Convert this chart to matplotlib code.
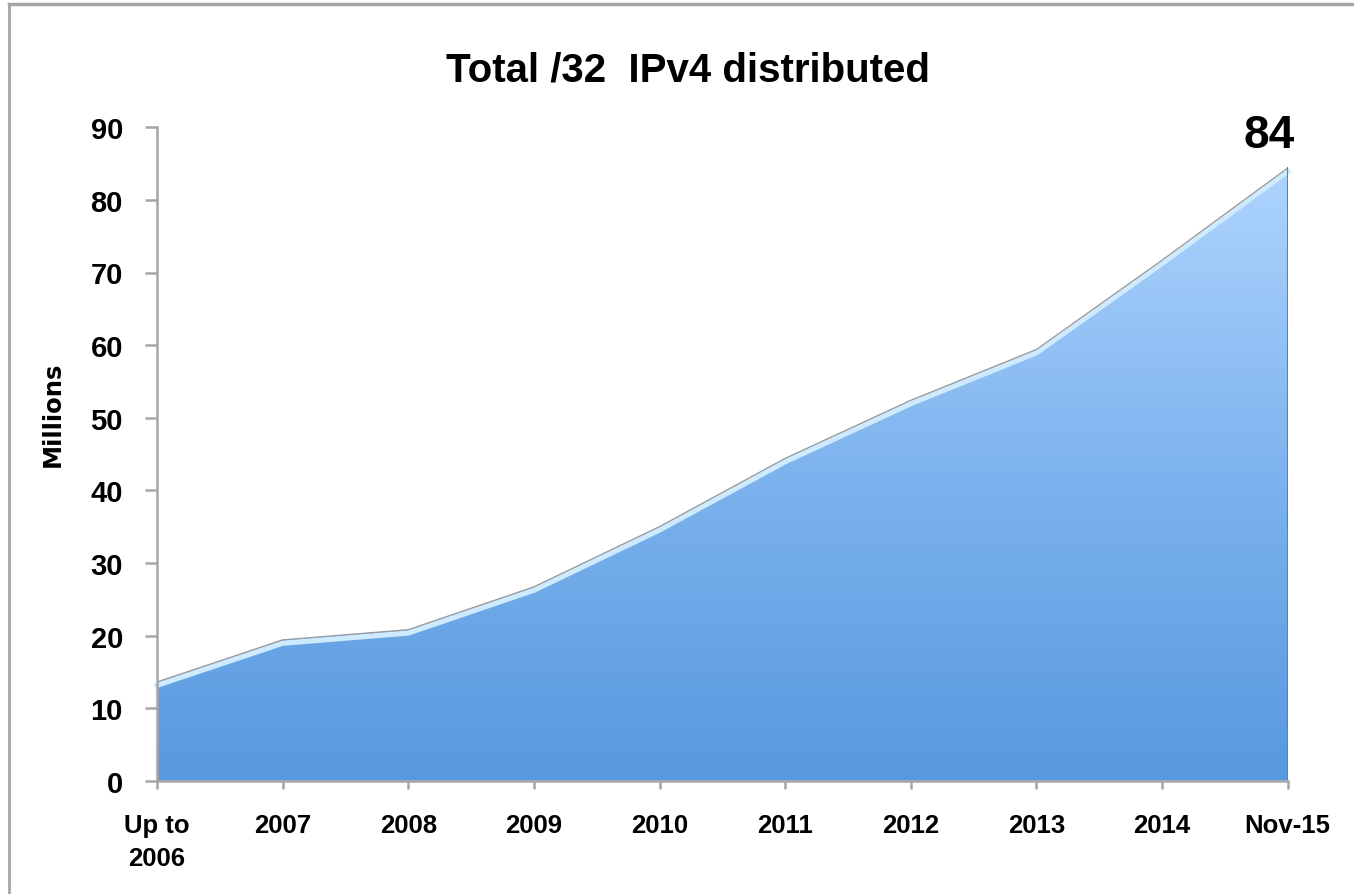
import matplotlib.pyplot as plt
import numpy as np
from matplotlib.colors import LinearSegmentedColormap
from matplotlib.lines import Line2D
import matplotlib.transforms as mtransforms

# data (millions of /32 addresses)
categories = ["Up to\n2006", "2007", "2008", "2009", "2010",
              "2011", "2012", "2013", "2014", "Nov-15"]
values = [13.6, 19.4, 20.8, 26.7, 35.0, 44.4, 52.4, 59.4, 71.7, 84.4]
yticks = [0, 10, 20, 30, 40, 50, 60, 70, 80, 90]
last_label = "84"

fam = ['Liberation Sans', 'DejaVu Sans']

W, H = 1354, 895
fig = plt.figure(figsize=(W / 100, H / 100), dpi=100)
ax = fig.add_axes([157 / W, 1 - 781.7 / H, (1287.7 - 157) / W, (781.7 - 128.3) / H])

x = np.arange(len(values))
top = max(values)

# gradient fill clipped to the area under the line
poly = ax.fill_between(x, values, 0, facecolor='none', edgecolor='none')
cmap = LinearSegmentedColormap.from_list('blues', ['#5799df', '#7db3ee', '#aed4fe'])
grad = np.linspace(0, 1, 256).reshape(-1, 1)
im = ax.imshow(grad, cmap=cmap, origin='lower', aspect='auto',
               extent=[0, len(values) - 1, 0, top], zorder=1)
im.set_clip_path(poly.get_paths()[0], transform=ax.transData)

# light highlight just under the edge, thin grey outline on top
hl = mtransforms.offset_copy(ax.transData, fig=fig, x=0, y=-2.4, units='points')
ax.plot(x, values, color='#cdeaff', lw=3.8, transform=hl, zorder=3,
        solid_joinstyle='round', clip_on=False)
ax.plot(x, values, color='#9a9a9a', lw=0.9, zorder=4, solid_joinstyle='round')

# darker side edges
ax.plot([x[-1], x[-1]], [0, values[-1]], color='#5a80b4', lw=2.2, zorder=4)
ax.plot([x[0], x[0]], [0, values[0]], color='#4f8ad0', lw=1.5, zorder=4)

ax.set_xlim(0, len(values) - 1)
ax.set_ylim(0, 90)
ax.set_yticks(yticks)
ax.set_xticks(x)
ax.set_xticklabels(categories, fontfamily=fam, fontweight='bold',
                   fontsize=18.5, linespacing=1.5)
ax.set_yticklabels([str(t) for t in yticks], fontfamily=fam,
                   fontweight='bold', fontsize=21)

for s in ['top', 'right']:
    ax.spines[s].set_visible(False)
for s in ['left', 'bottom']:
    ax.spines[s].set_color('#a6a6a6')
    ax.spines[s].set_linewidth(1.8)
    ax.spines[s].set_zorder(5)
ax.tick_params(axis='y', direction='out', length=8.5, width=1.8,
               color='#a6a6a6', pad=16)
ax.tick_params(axis='x', direction='out', length=6, width=1.8,
               color='#a6a6a6', pad=17)

ax.set_ylabel("Millions", fontfamily=['DejaVu Sans'], fontweight='bold', fontsize=17.5)
ax.yaxis.set_label_coords(-0.082, 0.563)

ax.text(x[-1] - 0.15, values[-1] + 2.9, last_label, ha='center', va='baseline',
        fontfamily=fam, fontweight='bold', fontsize=33)

fig.text(0.508, 1 - 82 / H, "Total /32  IPv4 distributed", ha='center',
         va='baseline', fontfamily=fam, fontweight='bold', fontsize=29)

# outer frame (top and left edges visible in the reference)
fig.add_artist(Line2D([9 / W, 9 / W], [0, 1 - 5 / H], color='#a6a6a6', lw=2,
                      transform=fig.transFigure))
fig.add_artist(Line2D([9 / W, 1], [1 - 5 / H, 1 - 5 / H], color='#a6a6a6', lw=2.5,
                      transform=fig.transFigure))

fig.savefig('out.png', dpi=100)
